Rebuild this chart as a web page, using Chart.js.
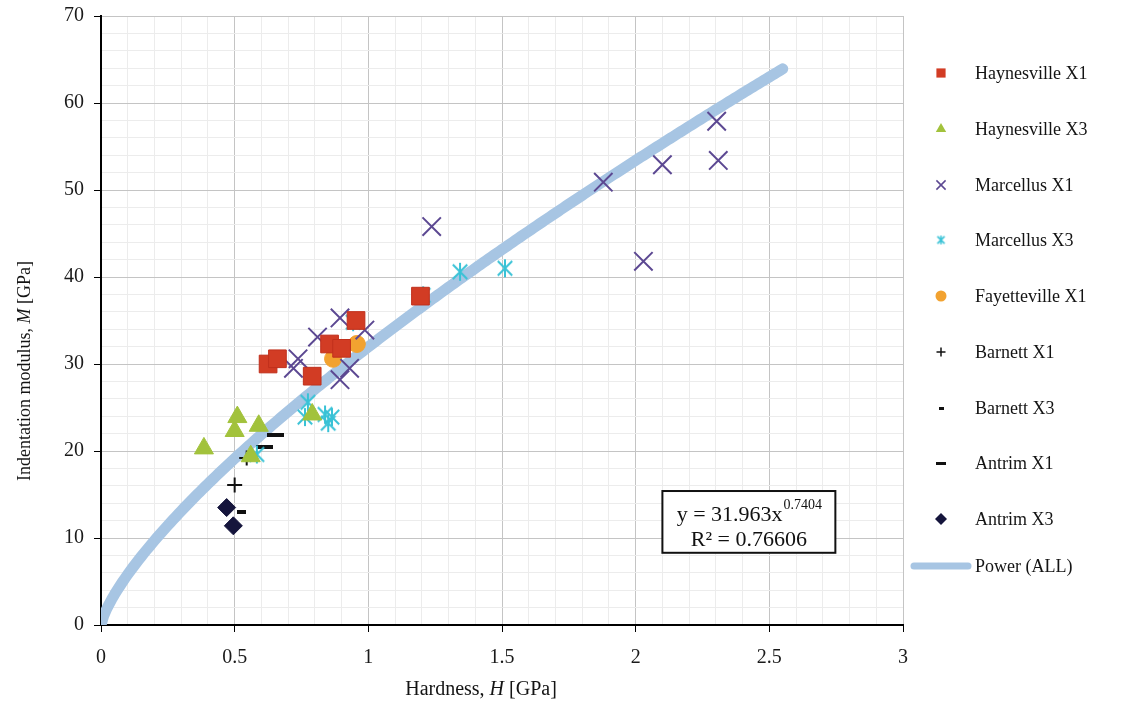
<!DOCTYPE html>
<html>
<head>
<meta charset="utf-8">
<script src="https://cdn.jsdelivr.net/npm/chart.js@4/dist/chart.umd.min.js"></script>
<style>
  html, body { margin: 0; padding: 0; background: #ffffff; }
  #wrap { width: 1125px; height: 713px; position: relative; }
</style>
</head>
<body>
<div id="wrap"><canvas id="chart" width="1125" height="713"></canvas></div>
<script>
// Indentation modulus M vs hardness H, [H (GPa), M (GPa)] per sample
const haynesvilleX1 = [[0.625, 30.0], [0.66, 30.6], [0.79, 28.6], [0.855, 32.3], [0.90, 31.8], [0.954, 35.0], [1.195, 37.8]];
const haynesvilleX3 = [[0.385, 20.3], [0.50, 22.3], [0.51, 23.9], [0.59, 22.9], [0.56, 19.4], [0.79, 24.2]];
const marcellusX1 = [[0.72, 29.5], [0.737, 30.6], [0.81, 33.1], [0.894, 35.3], [0.987, 33.9], [0.93, 29.5], [0.894, 28.2],
                     [1.237, 45.8], [1.879, 50.9], [2.10, 52.9], [2.303, 57.9], [2.309, 53.4], [2.029, 41.8]];
const marcellusX3 = [[0.583, 19.6], [0.774, 25.6], [0.763, 23.9], [0.838, 24.2], [0.864, 23.9], [0.85, 23.2],
                     [0.943, 34.8], [1.205, 37.9], [1.343, 40.6], [1.511, 41.0]];
const fayettevilleX1 = [[0.868, 30.6], [0.957, 32.3]];
const barnettX1 = [[0.50, 16.1], [0.545, 19.2]];
const barnettX3 = [[0.525, 13.0]];
const antrimX1 = [[0.613, 20.5], [0.651, 21.8]];
const antrimX3 = [[0.47, 13.5], [0.495, 11.4]];

// Power-law fit over all samples: M = a * H^b
const powerCoef = 31.963;
const powerExp = 0.7404;
const powerR2 = '0.76606';
const fitHMax = 2.55;

// Axis ticks
const xTickLabels = ['0', '0.5', '1', '1.5', '2', '2.5', '3'];
const yTickLabels = ['0', '10', '20', '30', '40', '50', '60', '70'];

const SERIF = '"Liberation Serif", "Times New Roman", serif';

function toPoints(arr) { return arr.map(p => ({ x: p[0], y: p[1] })); }

// Fitted curve sampled along H
const fitPoints = [];
for (let i = 0; i <= Math.round(fitHMax * 100); i++) {
  const h = i / 100;
  fitPoints.push({ x: h, y: powerCoef * Math.pow(h, powerExp) });
}

// Custom marker glyphs (asterisk, short dash, long dash)
function makeMarker(kind, size, color, lw) {
  const c = document.createElement('canvas');
  if (kind === 'asterisk') {
    c.width = size + 4; c.height = size + 4;
    const g = c.getContext('2d');
    const m = c.width / 2, r = size / 2;
    g.strokeStyle = color; g.lineWidth = lw; g.lineCap = 'butt';
    g.beginPath();
    const d = r * 0.8;
    g.moveTo(m - d, m - d); g.lineTo(m + d, m + d);
    g.moveTo(m + d, m - d); g.lineTo(m - d, m + d);
    g.moveTo(m, m - r); g.lineTo(m, m + r);
    g.stroke();
  } else {
    const w = size, h = lw;
    c.width = w; c.height = h;
    const g = c.getContext('2d');
    g.fillStyle = color;
    g.fillRect(0, 0, w, h);
  }
  return c;
}

const colors = {
  hx1: '#d23c24', hx3: '#a2c23c', mx1: '#5c4892', mx3: '#38c2d6',
  fx1: '#f2a230', bx: '#111111', ax3: '#15153c', fit: '#a7c5e3'
};

const asteriskBig = makeMarker('asterisk', 18, colors.mx3, 2);
const asteriskSmall = makeMarker('asterisk', 9, colors.mx3, 1.5);
const dashShortBig = makeMarker('dash', 9, colors.bx, 4);
const dashShortSmall = makeMarker('dash', 5, colors.bx, 3);
const dashLongBig = makeMarker('dash', 17, colors.bx, 4);
const dashLongSmall = makeMarker('dash', 10, colors.bx, 3);

const datasets = [
  { label: 'Haynesville X1', data: toPoints(haynesvilleX1), pointStyle: 'rect', pointRadius: 12.5,
    backgroundColor: colors.hx1, borderColor: '#c0301c', borderWidth: 1,
    legendMark: { pointStyle: 'rect', radius: 6.5, fill: colors.hx1, stroke: colors.hx1, lw: 0 } },
  { label: 'Haynesville X3', data: toPoints(haynesvilleX3), pointStyle: 'triangle', pointRadius: 11,
    backgroundColor: colors.hx3, borderColor: colors.hx3, borderWidth: 1,
    legendMark: { pointStyle: 'triangle', radius: 6, fill: colors.hx3, stroke: colors.hx3, lw: 0 } },
  { label: 'Marcellus X1', data: toPoints(marcellusX1), pointStyle: 'crossRot', pointRadius: 13,
    backgroundColor: colors.mx1, borderColor: colors.mx1, borderWidth: 2,
    legendMark: { pointStyle: 'crossRot', radius: 6.5, fill: colors.mx1, stroke: colors.mx1, lw: 1.5 } },
  { label: 'Marcellus X3', data: toPoints(marcellusX3), pointStyle: asteriskBig, pointRadius: 10,
    backgroundColor: colors.mx3, borderColor: colors.mx3, borderWidth: 2,
    legendMark: { pointStyle: asteriskSmall, radius: 5, fill: colors.mx3, stroke: colors.mx3, lw: 0 } },
  { label: 'Fayetteville X1', data: toPoints(fayettevilleX1), pointStyle: 'circle', pointRadius: 8.5,
    backgroundColor: colors.fx1, borderColor: colors.fx1, borderWidth: 1,
    legendMark: { pointStyle: 'circle', radius: 5.5, fill: colors.fx1, stroke: colors.fx1, lw: 0 } },
  { label: 'Barnett X1', data: toPoints(barnettX1), pointStyle: 'cross', pointRadius: 7.5,
    backgroundColor: colors.bx, borderColor: colors.bx, borderWidth: 2,
    legendMark: { pointStyle: 'cross', radius: 4.5, fill: colors.bx, stroke: colors.bx, lw: 1.5 } },
  { label: 'Barnett X3', data: toPoints(barnettX3), pointStyle: dashShortBig, pointRadius: 6,
    backgroundColor: colors.bx, borderColor: colors.bx, borderWidth: 0,
    legendMark: { pointStyle: dashShortSmall, radius: 3, fill: colors.bx, stroke: colors.bx, lw: 0 } },
  { label: 'Antrim X1', data: toPoints(antrimX1), pointStyle: dashLongBig, pointRadius: 9,
    backgroundColor: colors.bx, borderColor: colors.bx, borderWidth: 0,
    legendMark: { pointStyle: dashLongSmall, radius: 5, fill: colors.bx, stroke: colors.bx, lw: 0 } },
  { label: 'Antrim X3', data: toPoints(antrimX3), pointStyle: 'rectRot', pointRadius: 9,
    backgroundColor: colors.ax3, borderColor: colors.ax3, borderWidth: 1,
    legendMark: { pointStyle: 'rectRot', radius: 6, fill: colors.ax3, stroke: colors.ax3, lw: 0 } },
  { label: 'Power (ALL)', type: 'line', data: fitPoints, showLine: true, pointRadius: 0, pointHoverRadius: 0,
    borderColor: colors.fit, backgroundColor: colors.fit, borderWidth: 11, borderCapStyle: 'round',
    borderJoinStyle: 'round', tension: 0, fill: false, legendLine: true }
];

function isMultiple(v, step) {
  const q = v / step;
  return Math.abs(q - Math.round(q)) < 1e-6;
}

// Right-side legend, axis titles with italic symbols, and the fit-equation box
const decorations = {
  id: 'decorations',
  afterDraw(chart) {
    const ctx = chart.ctx;
    const xs = chart.scales.x, ys = chart.scales.y;
    ctx.save();

    // legend
    const markX = 941, textX = 975;
    const rowY = [73, 129, 185, 240, 296, 352, 408, 463, 519, 566];
    chart.data.datasets.forEach((ds, i) => {
      const y = rowY[i];
      if (ds.legendLine) {
        ctx.strokeStyle = ds.borderColor;
        ctx.lineWidth = 7;
        ctx.lineCap = 'round';
        ctx.beginPath(); ctx.moveTo(914, y); ctx.lineTo(968, y); ctx.stroke();
      } else {
        const m = ds.legendMark;
        ctx.fillStyle = m.fill; ctx.strokeStyle = m.stroke; ctx.lineWidth = m.lw || 1;
        Chart.helpers.drawPoint(ctx, { pointStyle: m.pointStyle, radius: m.radius, rotation: 0, borderWidth: m.lw }, markX, y);
      }
      ctx.fillStyle = '#141414';
      ctx.font = '18px ' + SERIF;
      ctx.textAlign = 'left';
      ctx.textBaseline = 'middle';
      ctx.fillText(ds.label, textX, y + 1);
    });

    // axis titles
    function mixedText(parts, cx, cy, size) {
      let total = 0;
      parts.forEach(p => { ctx.font = (p.it ? 'italic ' : '') + size + 'px ' + SERIF; p.w = ctx.measureText(p.t).width; total += p.w; });
      let x = cx - total / 2;
      ctx.textAlign = 'left'; ctx.textBaseline = 'middle';
      parts.forEach(p => { ctx.font = (p.it ? 'italic ' : '') + size + 'px ' + SERIF; ctx.fillText(p.t, x, cy); x += p.w; });
    }
    ctx.fillStyle = '#141414';
    mixedText([{ t: 'Hardness, ' }, { t: 'H', it: true }, { t: ' [GPa]' }], 481, 690, 20);
    ctx.save();
    ctx.translate(25, 371);
    ctx.rotate(-Math.PI / 2);
    mixedText([{ t: 'Indentation modulus, ' }, { t: 'M', it: true }, { t: ' [GPa]' }], 0, 0, 18);
    ctx.restore();

    // equation box
    const bx0 = xs.getPixelForValue(2.10), bx1 = xs.getPixelForValue(2.747);
    const by0 = ys.getPixelForValue(15.4), by1 = ys.getPixelForValue(8.3);
    ctx.fillStyle = '#ffffff';
    ctx.fillRect(bx0, by0, bx1 - bx0, by1 - by0);
    ctx.strokeStyle = '#111111'; ctx.lineWidth = 2;
    ctx.strokeRect(bx0, by0, bx1 - bx0, by1 - by0);
    const cx = (bx0 + bx1) / 2;
    ctx.fillStyle = '#111111';
    ctx.textBaseline = 'alphabetic';
    const main = 'y = ' + powerCoef.toFixed(3) + 'x';
    const sup = String(powerExp);
    ctx.font = '22px ' + SERIF; const wMain = ctx.measureText(main).width;
    ctx.font = '14px ' + SERIF; const wSup = ctx.measureText(sup).width;
    let sx = cx - (wMain + wSup) / 2;
    ctx.textAlign = 'left';
    ctx.font = '22px ' + SERIF; ctx.fillText(main, sx, by0 + 30);
    ctx.font = '14px ' + SERIF; ctx.fillText(sup, sx + wMain + 1, by0 + 18);
    ctx.font = '22px ' + SERIF; ctx.textAlign = 'center';
    ctx.fillText('R\u00B2 = ' + powerR2, cx, by0 + 55);
    ctx.restore();
  }
};

new Chart(document.getElementById('chart'), {
  type: 'scatter',
  data: { datasets },
  options: {
    responsive: false,
    devicePixelRatio: 1,
    animation: false,
    layout: { padding: { top: 16, right: 222, left: 0, bottom: 0 } },
    plugins: { legend: { display: false }, tooltip: { enabled: false } },
    scales: {
      x: {
        type: 'linear', min: 0, max: 3,
        afterFit(s) { s.height = 88; s.paddingLeft = 0; s.paddingRight = 0; },
        ticks: {
          stepSize: 0.1, autoSkip: false, maxRotation: 0, padding: 14,
          color: '#1a1a1a', font: { family: SERIF, size: 20 },
          callback(v) { return isMultiple(v, 0.5) ? xTickLabels[Math.round(v / 0.5)] : ''; }
        },
        grid: {
          color: c => isMultiple(c.tick.value, 0.5) ? '#c4c4c4' : '#ececec',
          lineWidth: 1, tickLength: 7,
          tickColor: c => isMultiple(c.tick.value, 0.5) ? '#000000' : 'rgba(0,0,0,0)'
        },
        border: { color: '#000000', width: 2 }
      },
      y: {
        type: 'linear', min: 0, max: 70,
        afterFit(s) { s.width = 101; s.paddingTop = 0; s.paddingBottom = 0; },
        ticks: {
          stepSize: 2, autoSkip: false, padding: 10,
          color: '#1a1a1a', font: { family: SERIF, size: 20 },
          callback(v) { return isMultiple(v, 10) ? yTickLabels[Math.round(v / 10)] : ''; }
        },
        grid: {
          color: c => isMultiple(c.tick.value, 10) ? '#c4c4c4' : '#ececec',
          lineWidth: 1, tickLength: 7,
          tickColor: c => isMultiple(c.tick.value, 10) ? '#000000' : 'rgba(0,0,0,0)'
        },
        border: { color: '#000000', width: 2 }
      }
    }
  },
  plugins: [decorations]
});
</script>
</body>
</html>
